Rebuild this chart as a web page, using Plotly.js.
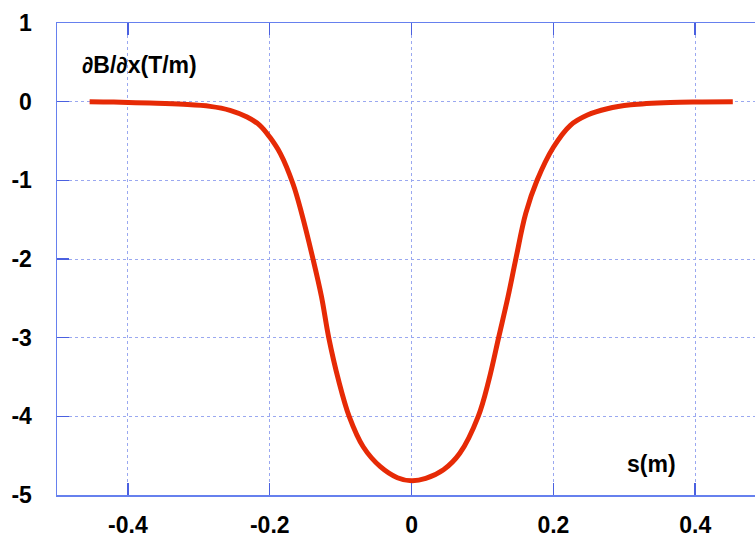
<!DOCTYPE html>
<html>
<head>
<meta charset="utf-8">
<script src="https://cdn.plot.ly/plotly-3.0.1.min.js"></script>
<style>html,body{margin:0;padding:0;background:#fff;}#chart{width:755px;height:540px;}</style>
</head>
<body>
<div id="chart"></div>
<script>
// s (m) positions along the magnet
const sValues = [-0.454, -0.42, -0.369, -0.322, -0.284, -0.256, -0.232, -0.214, -0.200, -0.185, -0.167, -0.155, -0.139, -0.127, -0.117, -0.103, -0.088, -0.068, -0.044, -0.020, 0.0,
                 0.020, 0.045, 0.068, 0.094, 0.109, 0.123, 0.136, 0.147, 0.161, 0.177, 0.200, 0.224, 0.248, 0.276, 0.309, 0.365, 0.41, 0.453];
// field gradient dB/dx (T/m)
const gradValues = [0.0, -0.005, -0.018, -0.034, -0.06, -0.11, -0.196, -0.30, -0.45, -0.66, -1.05, -1.42, -2.0, -2.48, -2.99, -3.54, -4.0, -4.39, -4.64, -4.78, -4.82,
                    -4.79, -4.68, -4.47, -4.0, -3.54, -2.99, -2.48, -2.0, -1.42, -1.0, -0.58, -0.30, -0.17, -0.09, -0.04, -0.01, -0.004, 0.0];
const xTickVals = [-0.4, -0.2, 0, 0.2, 0.4];
const xTickText = ["-0.4", "-0.2", "0", "0.2", "0.4"];
const yTickVals = [-5, -4, -3, -2, -1, 0, 1];
const yTickText = ["-5", "-4", "-3", "-2", "-1", "0", "1"];
const yTitle = "∂B/∂x(T/m)";
const xTitle = "s(m)";

const font = {family: "Liberation Sans, Arial, Helvetica, sans-serif", size: 23, color: "#000", weight: "bold"};

const trace = {
  x: sValues, y: gradValues, type: "scatter", mode: "lines",
  line: {color: "#e62a06", width: 5, shape: "spline", smoothing: 1},
  hoverinfo: "none"
};

const axisCommon = {
  showgrid: true, gridcolor: "#9aa8f0", griddash: "dot", gridwidth: 1,
  showline: true, linecolor: "#6680ee", linewidth: 1.5,
  ticks: "inside", ticklen: 12, tickcolor: "#4a60e0", tickwidth: 1.5,
  zeroline: false, tickfont: font, tickmode: "array"
};

const layout = {
  width: 755, height: 540,
  margin: {l: 57, r: 0, t: 23, b: 45},
  paper_bgcolor: "#fff", plot_bgcolor: "#fff",
  showlegend: false,
  xaxis: Object.assign({}, axisCommon, {
    range: [-0.5, 0.4843], tickvals: xTickVals, ticktext: xTickText,
    mirror: "ticks", ticklabelstandoff: 9
  }),
  yaxis: Object.assign({}, axisCommon, {
    range: [-5, 1], tickvals: yTickVals, ticktext: yTickText,
    ticklabelstandoff: 19
  }),
  annotations: [
    {text: yTitle, x: -0.467, y: 0.46, xref: "x", yref: "y", xanchor: "left", yanchor: "middle", showarrow: false, font: font},
    {text: xTitle, x: 0.339, y: -4.6, xref: "x", yref: "y", xanchor: "center", yanchor: "middle", showarrow: false, font: font}
  ]
};

Plotly.newPlot("chart", [trace], layout, {staticPlot: true, displayModeBar: false});
</script>
</body>
</html>
